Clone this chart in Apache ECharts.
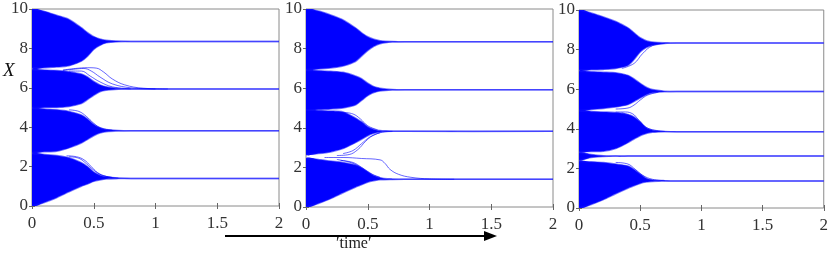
<!DOCTYPE html>
<html>
<head>
<meta charset="utf-8">
<script src="https://cdn.jsdelivr.net/npm/echarts@6/dist/echarts.min.js"></script>
<style>
  html, body { margin: 0; padding: 0; background: #fff; }
  #chart { width: 831px; height: 253px; }
</style>
</head>
<body>
<div id="chart"></div>
<script>
  const T = [0, 0.1, 0.2, 0.3, 0.4, 0.45, 0.5, 0.55, 0.6, 0.7, 0.8, 2];
  const xTicks = [0, 0.5, 1, 1.5, 2];
  const yTicks = [0, 2, 4, 6, 8, 10];

  // panel 1: upper / lower edge of each cluster bundle
  const p1Upper = [
    [10, 9.88, 9.68, 9.47, 9.05, 8.8, 8.6, 8.48, 8.42, 8.37, 8.35, 8.35],
    [6.92, 6.9, 6.88, 6.82, 6.7, 6.55, 6.32, 6.15, 6.05, 5.96, 5.94, 5.94],
    [4.95, 4.92, 4.88, 4.8, 4.62, 4.42, 4.15, 3.97, 3.88, 3.83, 3.82, 3.82],
    [2.65, 2.62, 2.56, 2.45, 2.2, 2.0, 1.72, 1.56, 1.48, 1.42, 1.4, 1.4]
  ];
  const p1Lower = [
    [7.0, 7.02, 7.05, 7.12, 7.35, 7.6, 7.95, 8.15, 8.28, 8.34, 8.35, 8.35],
    [5.0, 5.0, 5.0, 5.05, 5.2, 5.4, 5.62, 5.8, 5.88, 5.93, 5.94, 5.94],
    [2.72, 2.75, 2.78, 2.95, 3.2, 3.38, 3.56, 3.7, 3.77, 3.81, 3.82, 3.82],
    [0, 0.18, 0.42, 0.72, 1.0, 1.12, 1.25, 1.32, 1.37, 1.39, 1.4, 1.4]
  ];
  const p1Strays = [
    [[0.25, 6.9], [0.35, 6.98], [0.45, 7.02], [0.52, 7.0], [0.58, 6.8], [0.65, 6.45], [0.75, 6.15], [0.9, 5.98], [1.1, 5.94]],
    [[0.25, 6.88], [0.35, 6.95], [0.42, 6.98], [0.48, 6.85], [0.55, 6.55], [0.65, 6.2], [0.8, 6.0], [1.0, 5.94]],
    [[0.3, 6.85], [0.4, 6.85], [0.47, 6.6], [0.55, 6.3], [0.65, 6.05], [0.8, 5.95]],
    [[0.3, 4.88], [0.38, 4.8], [0.44, 4.55], [0.5, 4.2], [0.56, 3.95], [0.65, 3.85]],
    [[0.28, 2.55], [0.36, 2.5], [0.42, 2.35], [0.48, 2.0], [0.53, 1.7], [0.6, 1.5], [0.7, 1.42]],
    [[0.3, 2.5], [0.38, 2.42], [0.44, 2.15], [0.5, 1.82], [0.56, 1.58], [0.65, 1.45]]
  ];

  // panel 2
  const p2Upper = [
    [10, 9.9, 9.7, 9.45, 9.05, 8.8, 8.6, 8.47, 8.4, 8.36, 8.35, 8.35],
    [6.9, 6.88, 6.85, 6.8, 6.62, 6.48, 6.25, 6.08, 6.0, 5.93, 5.92, 5.92],
    [4.9, 4.88, 4.85, 4.8, 4.5, 4.3, 4.05, 3.92, 3.86, 3.83, 3.82, 3.82],
    [2.45, 2.4, 2.32, 2.25, 2.12, 1.98, 1.78, 1.58, 1.47, 1.42, 1.4, 1.4]
  ];
  const p2Lower = [
    [6.95, 6.97, 7.02, 7.12, 7.35, 7.62, 7.9, 8.12, 8.25, 8.33, 8.35, 8.35],
    [4.9, 4.92, 4.95, 5.0, 5.15, 5.38, 5.62, 5.78, 5.86, 5.91, 5.92, 5.92],
    [2.65, 2.7, 2.78, 2.95, 3.25, 3.42, 3.6, 3.72, 3.79, 3.82, 3.82, 3.82],
    [0, 0.18, 0.42, 0.72, 1.0, 1.12, 1.25, 1.32, 1.37, 1.39, 1.4, 1.4]
  ];
  const p2Strays = [
    [[0.15, 2.5], [0.3, 2.5], [0.45, 2.45], [0.6, 2.38], [0.64, 2.2], [0.68, 1.9], [0.75, 1.65], [0.85, 1.5], [1.0, 1.42], [1.2, 1.4]],
    [[0.25, 2.4], [0.33, 2.3], [0.4, 2.15], [0.47, 1.85], [0.53, 1.6], [0.62, 1.45]],
    [[0.28, 2.35], [0.38, 2.25], [0.45, 2.0], [0.52, 1.7], [0.6, 1.5]],
    [[0.25, 2.6], [0.35, 2.65], [0.42, 2.9], [0.48, 3.3], [0.54, 3.6], [0.62, 3.78], [0.7, 3.82]],
    [[0.3, 2.7], [0.38, 2.85], [0.45, 3.2], [0.52, 3.55], [0.6, 3.75]],
    [[0.3, 4.78], [0.38, 4.7], [0.44, 4.45], [0.5, 4.1], [0.58, 3.9]]
  ];

  // panel 3 (one extra cluster near 2.6)
  const p3Upper = [
    [10, 9.85, 9.65, 9.42, 9.1, 8.85, 8.6, 8.45, 8.38, 8.34, 8.33, 8.33],
    [6.9, 6.88, 6.86, 6.83, 6.7, 6.52, 6.3, 6.1, 5.98, 5.9, 5.88, 5.88],
    [4.9, 4.88, 4.85, 4.82, 4.72, 4.6, 4.35, 4.05, 3.93, 3.87, 3.85, 3.85],
    [2.8, 2.7, 2.64, 2.62, 2.62, 2.62, 2.62, 2.62, 2.62, 2.62, 2.62, 2.62],
    [2.35, 2.33, 2.3, 2.22, 2.12, 1.95, 1.72, 1.5, 1.42, 1.38, 1.36, 1.36]
  ];
  const p3Lower = [
    [6.97, 6.98, 7.0, 7.05, 7.2, 7.5, 7.88, 8.1, 8.22, 8.31, 8.33, 8.33],
    [4.92, 4.98, 5.03, 5.1, 5.22, 5.38, 5.55, 5.72, 5.82, 5.87, 5.88, 5.88],
    [2.85, 2.85, 2.86, 3.0, 3.3, 3.48, 3.65, 3.76, 3.82, 3.85, 3.85, 3.85],
    [2.4, 2.55, 2.6, 2.62, 2.62, 2.62, 2.62, 2.62, 2.62, 2.62, 2.62, 2.62],
    [0, 0.18, 0.42, 0.72, 1.0, 1.12, 1.24, 1.31, 1.34, 1.36, 1.36, 1.36]
  ];
  const p3Strays = [
    [[0.35, 7.05], [0.45, 7.3], [0.52, 7.8], [0.6, 8.2], [0.7, 8.31]],
    [[0.3, 5.0], [0.4, 5.05], [0.45, 5.2], [0.5, 5.45], [0.56, 5.7], [0.65, 5.85]],
    [[0.3, 4.85], [0.38, 4.85], [0.44, 4.75], [0.48, 4.5], [0.53, 4.15], [0.6, 3.95], [0.7, 3.87]],
    [[0.35, 4.8], [0.42, 4.65], [0.47, 4.35], [0.52, 4.05], [0.6, 3.9]],
    [[0.3, 2.3], [0.4, 2.22], [0.46, 1.95], [0.52, 1.65], [0.6, 1.45], [0.7, 1.38]]
  ];

  const panels = [
    { upper: p1Upper, lower: p1Lower, strays: p1Strays },
    { upper: p2Upper, lower: p2Lower, strays: p2Strays },
    { upper: p3Upper, lower: p3Lower, strays: p3Strays }
  ];

  const BLUE = '#0000ff';
  const EDGE = 'rgba(20,20,255,0.55)';
  const font = 'Liberation Serif';

  const grids = [
    { left: 32, top: 9, width: 247, height: 197 },
    { left: 306, top: 9, width: 247, height: 198 },
    { left: 579, top: 10, width: 246, height: 198 }
  ].map(g => Object.assign(g, { show: true, borderColor: '#8a8a8a', borderWidth: 1, backgroundColor: '#fff' }));

  const xAxes = [];
  const yAxes = [];
  grids.forEach((g, i) => {
    ['bottom', 'top'].forEach(pos => {
      xAxes.push({
        type: 'value', gridIndex: i, position: pos, min: 0, max: 2, interval: 0.5,
        axisLine: { show: false },
        axisTick: { show: true, inside: true, length: 3, lineStyle: { color: '#666' } },
        axisLabel: {
          show: pos === 'bottom', margin: 9, color: '#333', fontFamily: font, fontSize: 17,
          formatter: v => (xTicks.indexOf(v) >= 0 ? String(v) : '')
        },
        splitLine: { show: false }
      });
    });
    ['left', 'right'].forEach(pos => {
      yAxes.push({
        type: 'value', gridIndex: i, position: pos, min: 0, max: 10, interval: 2,
        axisLine: { show: false },
        axisTick: { show: true, inside: true, length: 3, lineStyle: { color: '#666' } },
        axisLabel: {
          show: pos === 'left', margin: 4, color: '#333', fontFamily: font, fontSize: 17,
          formatter: v => (yTicks.indexOf(v) >= 0 ? String(v) : '')
        },
        splitLine: { show: false }
      });
    });
  });

  // one custom series per bundle: [t, lower, upper]; the whole polygon is
  // drawn when the first item renders
  function renderBand(params, api) {
    if (params.dataIndexInside !== 0) return null;
    const n = params.dataInsideLength;
    const top = [], bot = [];
    for (let k = 0; k < n; k++) {
      const t = api.value(0, k);
      bot.push(api.coord([t, api.value(1, k)]));
      top.push(api.coord([t, api.value(2, k)]));
    }
    const poly = top.concat(bot.slice().reverse());
    return {
      type: 'group',
      children: [
        { type: 'polygon', shape: { points: poly, smooth: 0.25 }, style: { fill: BLUE } },
        { type: 'polyline', shape: { points: top, smooth: 0.25 }, style: { stroke: EDGE, lineWidth: 1.5, fill: null } },
        { type: 'polyline', shape: { points: bot, smooth: 0.25 }, style: { stroke: EDGE, lineWidth: 1.5, fill: null } }
      ]
    };
  }

  const series = [];
  panels.forEach((p, i) => {
    const ax = { xAxisIndex: i * 2, yAxisIndex: i * 2 };
    p.upper.forEach((hi, b) => {
      const lo = p.lower[b];
      series.push(Object.assign({
        type: 'custom', renderItem: renderBand, clip: true, silent: true,
        encode: { x: 0, y: [1, 2] },
        data: T.map((t, k) => [t, lo[k], hi[k]]),
        z: 2
      }, ax));
    });
    p.strays.forEach(s => {
      series.push(Object.assign({
        type: 'line', symbol: 'none', smooth: 0.4, silent: true,
        data: s,
        lineStyle: { color: BLUE, width: 1, opacity: 0.6 },
        z: 3
      }, ax));
    });
  });

  const chart = echarts.init(document.getElementById('chart'), null, { renderer: 'canvas' });
  chart.setOption({
    animation: false,
    backgroundColor: '#fff',
    grid: grids,
    xAxis: xAxes,
    yAxis: yAxes,
    series: series,
    graphic: [
      {
        type: 'text', left: 3, top: 61,
        style: { text: 'X', font: 'italic 19px "Liberation Serif"', fill: '#111' }
      },
      {
        type: 'line', shape: { x1: 225, y1: 236, x2: 488, y2: 236 },
        style: { stroke: '#000', lineWidth: 2 }
      },
      {
        type: 'polygon', shape: { points: [[484, 231], [497, 236], [484, 241]] },
        style: { fill: '#000' }
      },
      {
        type: 'text', left: 336, top: 236,
        style: { text: '\u2032time\u2032', font: '16px "Liberation Serif"', fill: '#222' }
      }
    ]
  });
</script>
</body>
</html>
